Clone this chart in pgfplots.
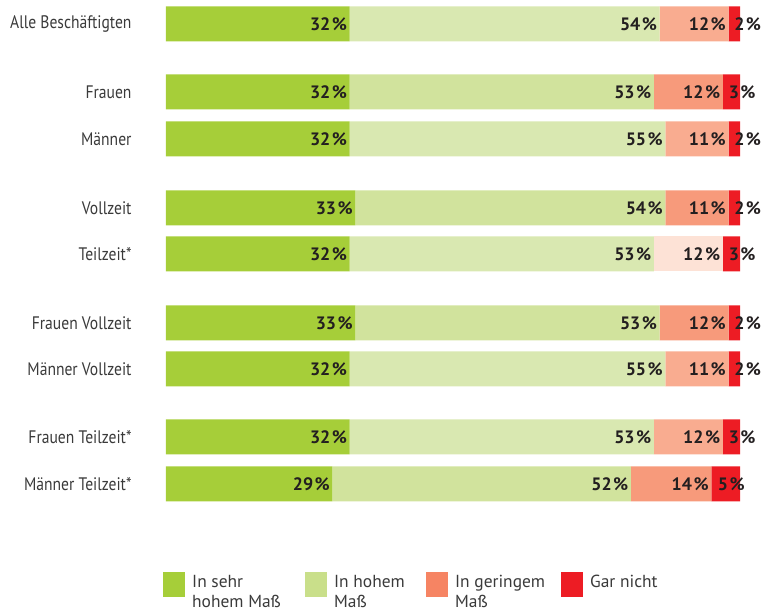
\documentclass[border=0pt]{standalone}
\usepackage{pgfplots}
\pgfplotsset{compat=1.18}
\usepackage{pgfplotstable}
\usepackage{fontspec}
\setmainfont{PT Sans}
\newfontfamily\condfont{PT Sans}[FakeStretch=0.86]
\definecolor{cG}{HTML}{A6CE39}
\definecolor{cLGa}{HTML}{D9E8B1}
\definecolor{cLGb}{HTML}{D1E39D}
\definecolor{cSAa}{HTML}{F9AC90}
\definecolor{cSAb}{HTML}{F79A7B}
\definecolor{cSAc}{HTML}{FDE2D6}
\definecolor{cR}{HTML}{ED1C24}
\definecolor{legLG}{HTML}{C9DF8A}
\definecolor{legSA}{HTML}{F68463}
\definecolor{labgray}{HTML}{3A3A3A}
\definecolor{numblack}{HTML}{231F20}
\pgfplotstableread{
y     g  lga lgb saa sab sac r
0     32 54  0   12  0   0   2
1.462 32 0   53  0   12  0   3
2.473 32 55  0   11  0   0   2
3.957 33 0   54  0   11  0   2
4.946 32 53  0   0   0   12  3
6.430 33 0   53  0   12  0   2
7.419 32 55  0   11  0   0   2
8.882 32 53  0   12  0   0   3
9.892 29 0   52  0   14  0   5
}\data
\pgfplotsset{
  lab/.style={visualization depends on={\thisrow{#1}\as\myv},
    nodes near coords={\ifdim\myv pt>0pt \pgfmathprintnumber[fixed,precision=0,assume math mode=true]{\myv}\kern1.5bp\%\fi},
    nodes near coords style={anchor=east, xshift={\myv*2.87bp-2.5bp}, inner sep=0pt,
      font=\bfseries\fontsize{18}{18}\selectfont, text=numblack}},
  redlab/.style={visualization depends on={\thisrow{#1}\as\myv},
    nodes near coords={\ifdim\myv pt>0pt \pgfmathprintnumber[fixed,precision=0,assume math mode=true]{\myv}\kern1.5bp\%\fi},
    nodes near coords style={anchor=west, xshift={5bp-\myv*2.6bp}, inner sep=0pt,
      font=\bfseries\fontsize{18}{18}\selectfont, text=numblack}},
}
\begin{document}
\begin{tikzpicture}
\begin{axis}[
  xbar stacked, bar width=35bp,
  width=574bp, height=507bp, scale only axis,
  xmin=0, xmax=100, ymin=-0.516, ymax=10.39, y dir=reverse,
  axis line style={draw=none}, tick style={draw=none},
  xtick=\empty,
  ytick={0,1.462,2.473,3.957,4.946,6.430,7.419,8.882,9.892},
  yticklabels={Alle Beschäftigten,Frauen,Männer,Vollzeit,Teilzeit*,Frauen Vollzeit,Männer Vollzeit,Frauen Teilzeit*,Männer Teilzeit*},
  yticklabel style={font=\condfont\fontsize{18.2}{18.2}\selectfont, text=labgray, xshift=-31bp},
  legend image code/.code={\fill[#1] (0bp,-10bp) rectangle (22bp,15bp);},
  legend style={draw=none, fill=none, inner sep=0pt, column sep=0pt,
    legend columns=4, cells={anchor=base west, inner sep=0pt},
    font=\fontsize{17.5}{20}\selectfont, text=labgray,
    at={(axis description cs:0,0)}, anchor=north west, xshift=-3bp, yshift=-64bp},
]
\addlegendimage{fill=cG, draw=none}
\addlegendentry{\makebox[116bp][l]{\hspace{5bp}\begin{tabular}[t]{@{}l@{}}In sehr\\hohem Maß\end{tabular}}}
\addlegendimage{fill=legLG, draw=none}
\addlegendentry{\makebox[95bp][l]{\hspace{5bp}\begin{tabular}[t]{@{}l@{}}In hohem\\Maß\end{tabular}}}
\addlegendimage{fill=legSA, draw=none}
\addlegendentry{\makebox[109bp][l]{\hspace{5bp}\begin{tabular}[t]{@{}l@{}}In geringem\\Maß\end{tabular}}}
\addlegendimage{fill=cR, draw=none}
\addlegendentry{\makebox[90bp][l]{\hspace{5bp}\begin{tabular}[t]{@{}l@{}}Gar nicht\end{tabular}}}
\addplot[fill=cG, draw=none, lab=g] table[x=g, y=y] {\data};
\addplot[fill=cLGa, draw=none, lab=lga] table[x=lga, y=y] {\data};
\addplot[fill=cLGb, draw=none, lab=lgb] table[x=lgb, y=y] {\data};
\addplot[fill=cSAa, draw=none, lab=saa] table[x=saa, y=y] {\data};
\addplot[fill=cSAb, draw=none, lab=sab] table[x=sab, y=y] {\data};
\addplot[fill=cSAc, draw=none, lab=sac] table[x=sac, y=y] {\data};
\addplot[fill=cR, draw=none, redlab=r] table[x=r, y=y] {\data};
\coordinate (tl) at (axis description cs:0,1);
\end{axis}
\pgfresetboundingbox
\path[use as bounding box] ([xshift=-166bp]tl) rectangle ([xshift=595bp,yshift=-613bp]tl);
\end{tikzpicture}
\end{document}
